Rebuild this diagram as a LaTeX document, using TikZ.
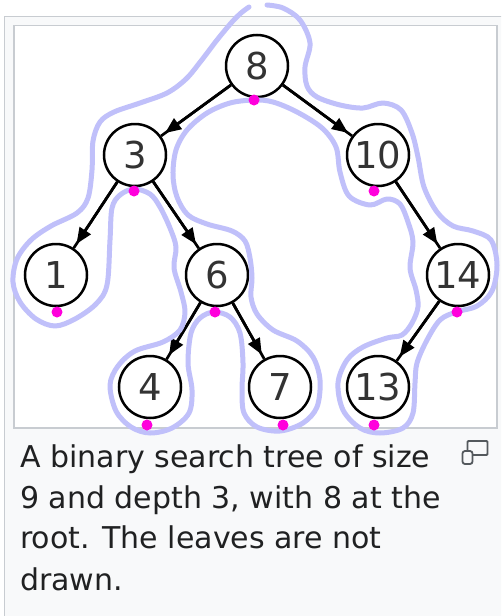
\documentclass[tikz,border=0pt]{standalone}
\usepackage{fontspec}
\setmainfont{DejaVu Sans}
\usetikzlibrary{arrows.meta}
\definecolor{capbg}{HTML}{F8F9FA}
\definecolor{capborder}{HTML}{C8CCD1}
\definecolor{captext}{HTML}{202122}
\definecolor{contourcol}{RGB}{192,192,250}
\definecolor{dotmag}{RGB}{255,0,220}
\definecolor{iconcol}{HTML}{54595D}
\begin{document}
\begin{tikzpicture}[x=1pt,y=-1pt,
  treenode/.style={circle, draw=black, line width=2.5pt, minimum size=62pt, inner sep=0pt,
    font=\fontsize{37}{40}\selectfont, text=black!80, fill=white},
  link/.style={line width=2.7pt, draw=black},
  arrowlink/.style={-{Triangle[length=16pt,width=13pt]}, line width=2.7pt, draw=black, shorten >=5pt},
  magdot/.style={circle, fill=dotmag, minimum size=11pt, inner sep=0pt},
  contourline/.style={draw=contourcol, line width=5pt, line cap=round, line join=round},
  capline/.style={anchor=base west, inner sep=0pt, font=\fontsize{30}{41}\selectfont, text=captext}]
\useasboundingbox (0,0) rectangle (501,616);
\clip (0,0) rectangle (501,616);
\fill[white] (0,0) rectangle (501,616);
% frames
\draw[capborder, fill=capbg, line width=1.6pt] (4.5,16.5) rectangle (530,640);
\draw[capborder, fill=white, line width=1.6pt] (14,25.5) rectangle (497,428);
% tree nodes
\node[treenode] (n8)  at (257,66)  {8};
\node[treenode] (n3)  at (135,155) {3};
\node[treenode] (n10) at (378,155) {10};
\node[treenode] (n1)  at (56,275)  {1};
\node[treenode] (n6)  at (217,275) {6};
\node[treenode] (n14) at (458,275) {14};
\node[treenode] (n4)  at (150,387) {4};
\node[treenode] (n7)  at (280,387) {7};
\node[treenode] (n13) at (378,387) {13};
% connectors
\foreach \a/\b in {n8/n3, n8/n10, n3/n1, n3/n6, n6/n4, n6/n7, n10/n14, n14/n13}{
  \draw[link] (\a) -- (\b);
  \draw[arrowlink] (\a) -- (\b);
}
% contour
\draw[contourline] plot[smooth, tension=0.55] coordinates {
(249,7) (241,13) (232,22) (217,40) (201,61) (186,79) (167,93) (140,103) (114,112) (100,122)
(93,141) (92,170) (88,198) (77,213) (51,226) (31,240) (17,259) (13,282) (20,302) (36,319)
(55,326) (75,319) (96,304) (107,285) (110,240) (112,208) (120,195) (134,189) (150,194) (160,207)
(170,228) (176,247) (174,268) (181,292) (185,312) (180,330) (163,342) (135,351) (118,366) (110,385)
(116,411) (131,427) (150,433) (172,428) (189,413) (192,390) (188,363) (191,333) (200,318) (214,312)
(230,317) (240,333) (243,363) (242,390) (244,413) (257,427) (280,431) (303,423) (317,407) (320,380)
(313,357) (297,341) (273,330) (257,314) (251,297) (252,278) (250,258) (245,241) (232,231) (207,224)
(188,215) (177,197) (173,175) (176,150) (187,130) (207,113) (230,103) (254,100) (273,102) (297,112)
(322,128) (336,147) (340,172) (349,196) (370,205) (387,199) (400,204) (408,222) (413,242) (410,268)
(416,290) (418,307) (412,323) (402,335) (387,338) (363,347) (347,360) (338,383) (343,410) (360,428)
(380,433) (403,428) (413,413) (415,383) (417,363) (427,340) (440,320) (456,312) (477,306) (492,291)
(497,265) (491,240) (473,231) (453,226) (437,212) (424,187) (418,157) (412,133) (401,110) (383,103)
(363,108) (340,105) (317,97) (307,86) (305,67) (310,43) (300,20) (283,8) (267,5)};
% dots
\node[magdot] (d8)  at (254,100) {};
\node[magdot] (d3)  at (134,191) {};
\node[magdot] (d10) at (374,191) {};
\node[magdot] (d1)  at (57,312)  {};
\node[magdot] (d6)  at (215,312) {};
\node[magdot] (d14) at (457,312) {};
\node[magdot] (d4)  at (147,425) {};
\node[magdot] (d7)  at (283,425) {};
\node[magdot] (d13) at (374,425) {};
% caption
\node[capline] (cap1) at (20,467) {A binary search tree of size};
\node[capline] (cap2) at (20,508) {9 and depth 3, with 8 at the};
\node[capline] (cap3) at (20,548) {root. The leaves are not};
\node[capline] (cap4) at (20,590) {drawn.};
% enlarge icon
\draw[iconcol, line width=1.8pt, rounded corners=1pt] (467.5,441) rectangle (487.5,455);
\draw[iconcol, fill=capbg, line width=1.8pt, rounded corners=2.5pt] (462.5,451) rectangle (472.5,464);
\end{tikzpicture}
\end{document}
